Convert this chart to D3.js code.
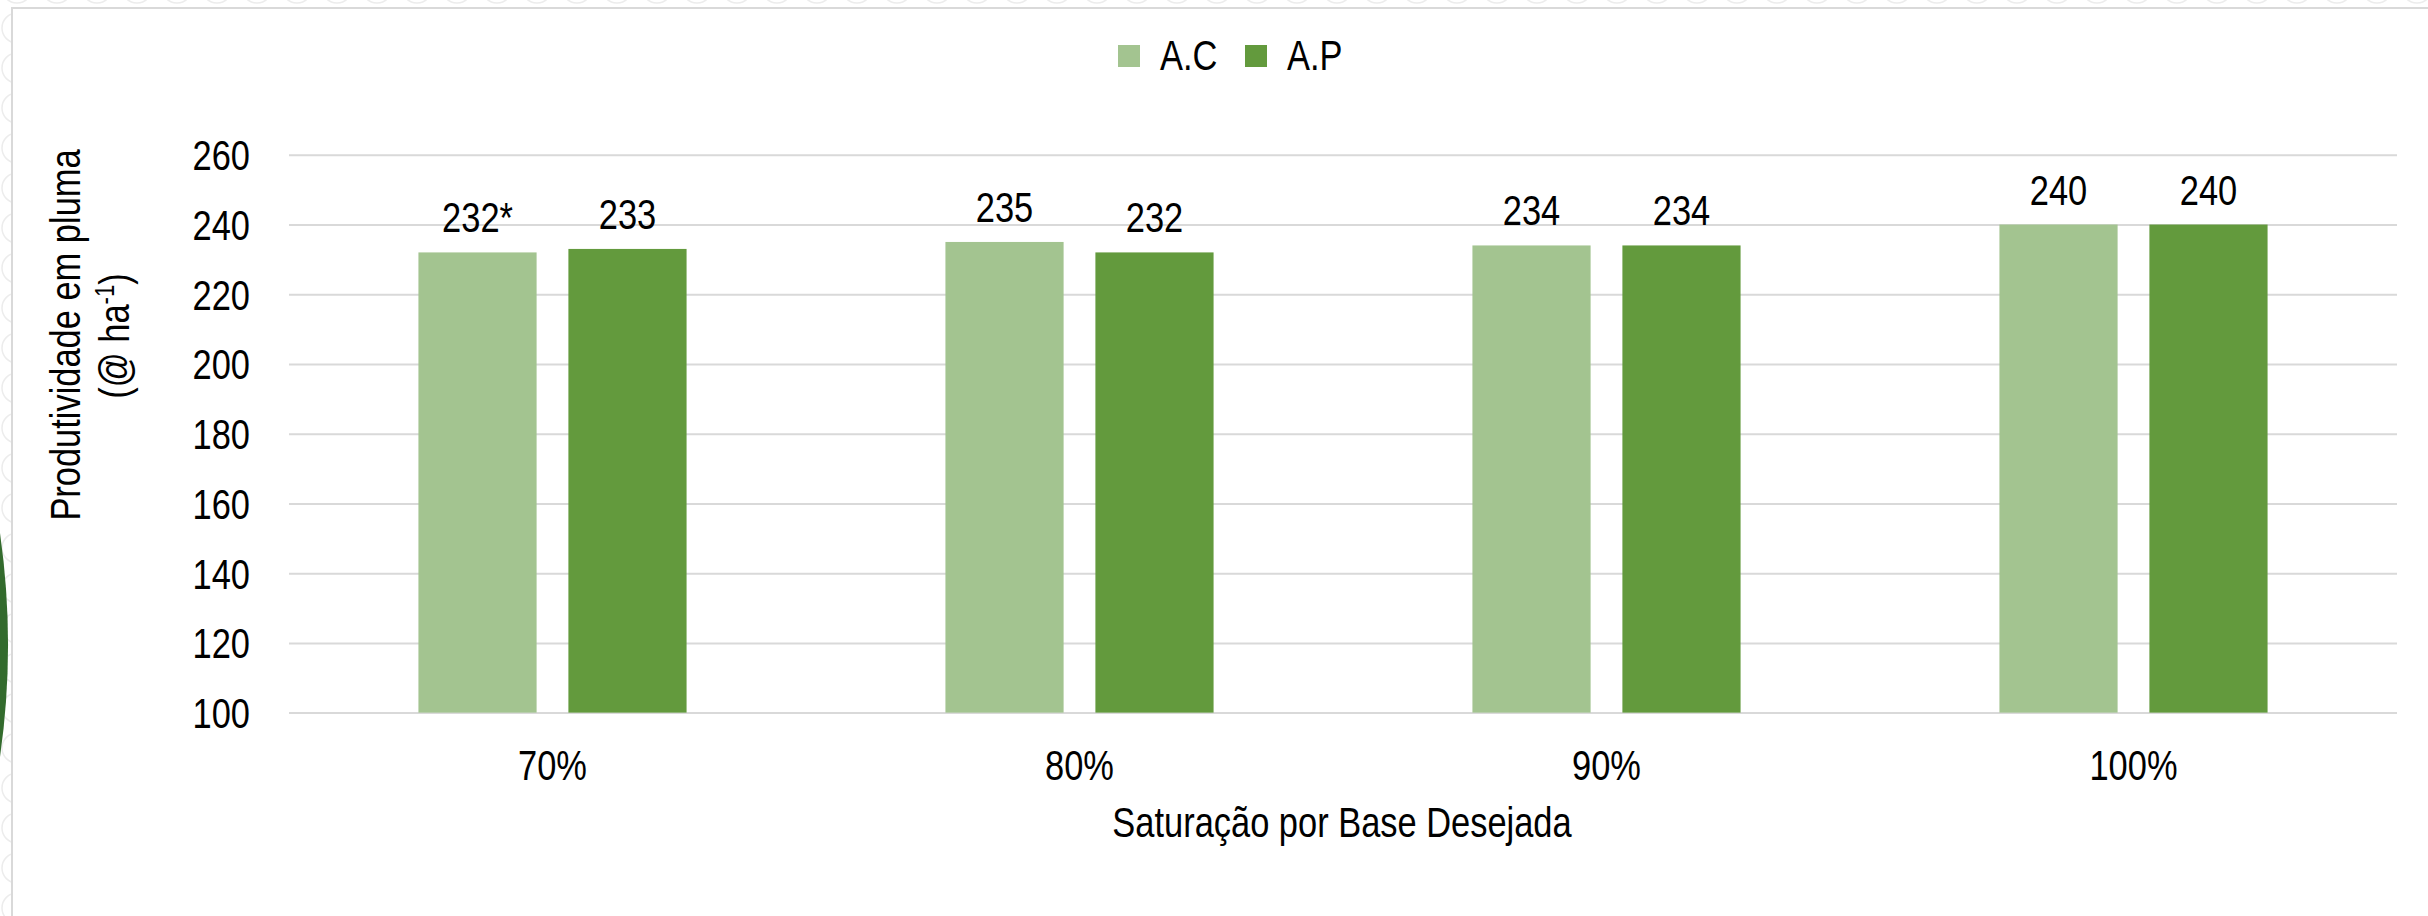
<!DOCTYPE html>
<html>
<head>
<meta charset="utf-8">
<script src="https://cdn.jsdelivr.net/npm/d3@7"></script>
<style>
  html, body { margin: 0; padding: 0; background: #ffffff; }
  svg { display: block; }
</style>
</head>
<body>
<svg id="chart" width="2428" height="916"></svg>
<script>
// Productivity of cotton lint by desired base saturation
const categories = ["70%", "80%", "90%", "100%"];
const seriesNames = ["A.C", "A.P"];
const acValues = [232, 235, 234, 240];
const apValues = [233, 232, 234, 240];
const acNotes = ["*", "", "", ""];
const apNotes = ["", "", "", ""];
const yTicks = [100, 120, 140, 160, 180, 200, 220, 240, 260];
const seriesColors = ["#a3c490", "#639a3d"];

const W = 2428, H = 916;
const plot = { left: 289, right: 2397, top: 154.8, bottom: 712.6 };

const svg = d3.select("#chart");

// Pick a condensed sans; fall back to horizontally squeezed Liberation Sans
function measure(fam) {
  const t = svg.append("text").attr("font-family", fam).attr("font-size", 100)
    .text("Saturação por Base Desejada");
  const w = t.node().getComputedTextLength();
  t.remove();
  return w;
}
const wNarrow = measure("'Liberation Sans Narrow', 'Liberation Sans'");
const wRegular = measure("'Liberation Sans'");
const narrowOK = wNarrow / wRegular < 0.9;
const fam = narrowOK ? "'Liberation Sans Narrow', 'Liberation Sans', sans-serif" : "'Liberation Sans', Arial, sans-serif";
const sx = narrowOK ? 1 : 0.82;
const FS = 42;

// Decorative background: faint ring pattern and the dark green edge accent
const defs = svg.append("defs");
const pat = defs.append("pattern").attr("id", "rings")
  .attr("patternUnits", "userSpaceOnUse").attr("width", 40).attr("height", 40)
  .attr("x", -3).attr("y", 8);
pat.append("circle").attr("cx", 20).attr("cy", 20).attr("r", 15)
  .attr("fill", "none").attr("stroke", "#ececec").attr("stroke-width", 1.5);
svg.append("rect").attr("width", W).attr("height", H).attr("fill", "url(#rings)");

svg.append("path")
  .attr("d", "M0,533 A788,788 0 0 1 0,757 Z")
  .attr("fill", "#336b2d");

// Chart frame
svg.append("rect")
  .attr("x", 12).attr("y", 8).attr("width", W + 20).attr("height", H + 20)
  .attr("fill", "#ffffff").attr("stroke", "#d9d9d9").attr("stroke-width", 2);

// Scales
const y = d3.scaleLinear().domain([100, 260]).range([plot.bottom, plot.top]);
const x0 = d3.scaleBand().domain(categories).range([plot.left, plot.right]).padding(0);
const x1 = d3.scaleBand().domain(seriesNames).range([0, x0.bandwidth()])
  .paddingInner(0.212).paddingOuter(0.863);

// Y axis with gridlines
const gY = svg.append("g").attr("transform", `translate(${plot.left},0)`)
  .call(d3.axisLeft(y).tickValues(yTicks).tickSize(-(plot.right - plot.left)).tickPadding(39));
gY.select(".domain").remove();
gY.selectAll(".tick line").attr("stroke", "#d9d9d9").attr("stroke-width", 2);
gY.selectAll(".tick text")
  .attr("x", null).attr("dy", null)
  .attr("transform", `translate(-39,15) scale(${sx},1)`)
  .attr("text-anchor", "end")
  .attr("font-family", fam).attr("font-size", FS).attr("fill", "#000");

// X axis labels
const gX = svg.append("g").attr("transform", `translate(0,${plot.bottom})`)
  .call(d3.axisBottom(x0).tickSize(0).tickPadding(0));
gX.select(".domain").remove();
gX.selectAll(".tick text")
  .attr("y", null).attr("dy", null)
  .attr("transform", `translate(0,67) scale(${sx},1)`)
  .attr("font-family", fam).attr("font-size", FS).attr("fill", "#000");

// Bars
const rows = categories.map((c, i) => ({
  cat: c,
  items: [
    { s: seriesNames[0], v: acValues[i], note: acNotes[i], color: seriesColors[0] },
    { s: seriesNames[1], v: apValues[i], note: apNotes[i], color: seriesColors[1] }
  ]
}));

const groups = svg.append("g").selectAll("g").data(rows).join("g")
  .attr("transform", d => `translate(${x0(d.cat)},0)`);

groups.selectAll("rect").data(d => d.items).join("rect")
  .attr("x", d => x1(d.s))
  .attr("y", d => y(d.v))
  .attr("width", x1.bandwidth())
  .attr("height", d => y(100) - y(d.v))
  .attr("fill", d => d.color);

groups.selectAll("text").data(d => d.items).join("text")
  .attr("transform", d => `translate(${x1(d.s) + x1.bandwidth() / 2},${y(d.v) - 20}) scale(${sx},1)`)
  .attr("text-anchor", "middle")
  .attr("font-family", fam).attr("font-size", FS).attr("fill", "#000")
  .text(d => d3.format("d")(d.v) + d.note);

// Axis titles
svg.append("text")
  .attr("transform", `translate(1342,837) scale(${sx},1)`)
  .attr("text-anchor", "middle")
  .attr("font-family", fam).attr("font-size", FS).attr("fill", "#000")
  .text("Saturação por Base Desejada");

const yTitle = svg.append("g").attr("font-family", fam).attr("font-size", FS).attr("fill", "#000");
yTitle.append("text")
  .attr("transform", `translate(80,335) rotate(-90) scale(${sx},1)`)
  .attr("text-anchor", "middle")
  .text("Produtividade em pluma");
const t2 = yTitle.append("text")
  .attr("transform", `translate(129,336) rotate(-90) scale(${sx},1)`)
  .attr("text-anchor", "middle");
t2.append("tspan").text("(@ ha");
t2.append("tspan").attr("font-size", 27).attr("dy", -15).text("-1");
t2.append("tspan").attr("dy", 15).text(")");

// Legend
const legend = svg.append("g").selectAll("g").data(seriesNames).join("g")
  .attr("transform", (d, i) => `translate(${1118 + i * 127},0)`);
legend.append("rect").attr("x", 0).attr("y", 45).attr("width", 22).attr("height", 22)
  .attr("fill", (d, i) => seriesColors[i]);
legend.append("text")
  .attr("transform", `translate(42,70) scale(${sx},1)`)
  .attr("font-family", fam).attr("font-size", FS).attr("fill", "#000")
  .text(d => d);
</script>
</body>
</html>
